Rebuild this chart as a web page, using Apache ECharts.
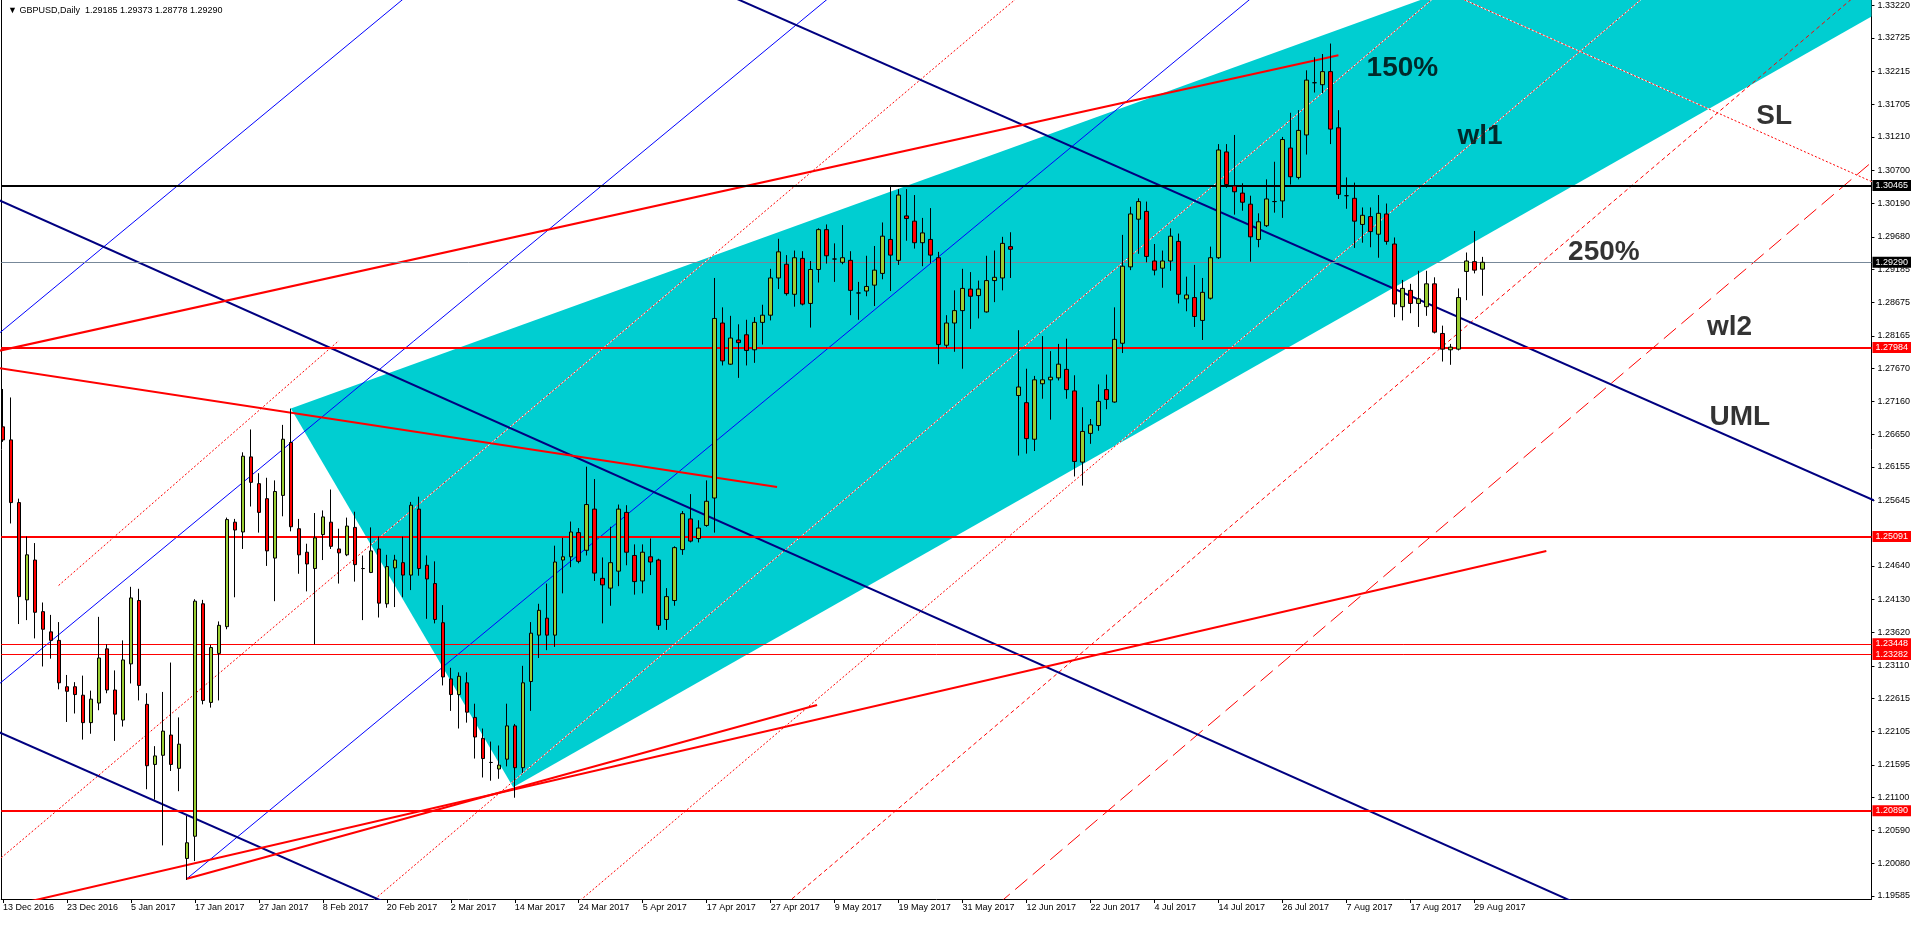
<!DOCTYPE html>
<html><head><meta charset="utf-8">
<script src="https://cdn.jsdelivr.net/npm/echarts@6.0.0/dist/echarts.min.js"></script>
<style>html,body{margin:0;padding:0;background:#fff;overflow:hidden}#c{width:1913px;height:925px}</style>
</head><body><div id="c"></div>
<script>
// ---- candle data (GBPUSD daily, bar 0 = 13 Dec 2016) ----
const opens = [
1.2677,1.2657,1.2561,1.2412,1.2473,1.2394,1.2363,1.2350,1.2279,1.2279,
1.2266,1.2224,1.2254,1.2337,1.2274,1.2228,1.2314,1.2411,1.2252,1.2160,
1.2174,1.2205,1.2154,1.2016,1.2050,1.2406,1.2255,1.2330,1.2371,1.2531,
1.2516,1.2631,1.2590,1.2567,1.2476,1.2572,1.2653,1.2521,1.2485,1.2460,
1.2512,1.2531,1.2490,1.2481,1.2523,1.2460,1.2454,1.2490,1.2406,1.2461,
1.2469,1.2450,1.2551,1.2465,1.2437,1.2377,1.2291,1.2267,1.2285,1.2232,
1.2200,1.2163,1.2153,1.2168,1.2219,1.2155,1.2287,1.2358,1.2384,1.2358,
1.2473,1.2478,1.2515,1.2488,1.2551,1.2445,1.2430,1.2456,1.2546,1.2480,
1.2441,1.2478,1.2473,1.2382,1.2411,1.2489,1.2536,1.2506,1.2526,1.2568,
1.2836,1.2773,1.2810,1.2818,1.2795,1.2837,1.2848,1.2905,1.2926,1.2880,
1.2935,1.2866,1.2918,1.2979,1.2934,1.2929,1.2932,1.2882,1.2885,1.2894,
1.2912,1.2964,1.2932,1.3000,1.2992,1.2959,1.2964,1.2936,1.2802,1.2836,
1.2855,1.2888,1.2878,1.2853,1.2901,1.2905,1.2953,1.2725,1.2714,1.2658,
1.2743,1.2749,1.2752,1.2765,1.2732,1.2623,1.2667,1.2679,1.2734,1.2715,
1.2805,1.2922,1.2995,1.3007,1.2931,1.2920,1.2931,1.2961,1.2873,1.2875,
1.2840,1.2874,1.2936,1.3098,1.3046,1.3035,1.3018,1.2964,1.2985,1.3022,
1.3023,1.3104,1.3059,1.3124,1.3204,1.3201,1.3221,1.3135,1.3031,1.3027,
1.2987,1.2999,1.2972,1.3003,1.2957,1.2861,1.2886,1.2866,1.2861,1.2896,
1.2820,1.2795,1.2796,1.2915,1.2930,1.29185];
const highs = [
1.2735,1.2722,1.2567,1.2509,1.2499,1.2408,1.2389,1.2378,1.2297,1.2286,
1.2296,1.2273,1.2386,1.2344,1.2304,1.2350,1.2432,1.2429,1.2269,1.2188,
1.2271,1.2316,1.2232,1.2081,1.2413,1.2412,1.2343,1.2379,1.2538,1.2536,
1.2638,1.2673,1.2606,1.2599,1.2595,1.2680,1.2705,1.2536,1.2498,1.2545,
1.2549,1.2581,1.2521,1.2538,1.2547,1.2480,1.2523,1.2509,1.2481,1.2481,
1.2509,1.2562,1.2570,1.2480,1.2471,1.2404,1.2308,1.2301,1.2301,1.2253,
1.2215,1.2195,1.2189,1.2253,1.2222,1.2311,1.2378,1.2406,1.2437,1.2495,
1.2507,1.2532,1.2522,1.2616,1.2597,1.2477,1.2524,1.2558,1.2557,1.2497,
1.2497,1.2506,1.2475,1.2430,1.2494,1.2548,1.2574,1.2534,1.2595,1.2905,
1.2860,1.2847,1.2834,1.2841,1.2845,1.2864,1.2919,1.2965,1.2940,1.2947,
1.2946,1.2931,1.2981,1.2987,1.2958,1.2986,1.2946,1.2899,1.2939,1.2954,
1.2990,1.3046,1.3041,1.3041,1.3032,1.2997,1.3012,1.2945,1.2848,1.2886,
1.2919,1.2914,1.2901,1.2939,1.2947,1.2968,1.2975,1.2825,1.2766,1.2755,
1.2816,1.2793,1.2804,1.2812,1.2756,1.2707,1.2689,1.2742,1.2757,1.2860,
1.2971,1.3014,1.3027,1.3022,1.2957,1.2947,1.2981,1.2973,1.2907,1.2925,
1.2905,1.2953,1.3110,1.3110,1.3124,1.3050,1.3031,1.3004,1.3056,1.3083,
1.3121,1.3158,1.3162,1.3223,1.3243,1.3248,1.3264,1.3162,1.3059,1.3051,
1.3013,1.3013,1.3032,1.3019,1.2967,1.2902,1.2896,1.2916,1.2916,1.2906,
1.2832,1.2804,1.2889,1.2944,1.2977,1.29373];
const lows = [
1.2654,1.2529,1.2375,1.2381,1.2353,1.2310,1.2322,1.2275,1.2225,1.2238,
1.2198,1.2207,1.2243,1.2269,1.2196,1.2218,1.2284,1.2258,1.2122,1.2106,
1.2036,1.2150,1.2119,1.1983,1.2012,1.2252,1.2247,1.2258,1.2367,1.2416,
1.2490,1.2555,1.2515,1.2464,1.2410,1.2540,1.2517,1.2452,1.2425,1.2344,
1.2473,1.2490,1.2437,1.2479,1.2440,1.2381,1.2453,1.2385,1.2400,1.2401,
1.2416,1.2427,1.2449,1.2383,1.2376,1.2281,1.2242,1.2215,1.2224,1.2169,
1.2140,1.2135,1.2138,1.2157,1.2109,1.2147,1.2242,1.2323,1.2335,1.2340,
1.2422,1.2462,1.2468,1.2480,1.2441,1.2376,1.2403,1.2433,1.2465,1.2420,
1.2422,1.2450,1.2366,1.2366,1.2403,1.2481,1.2500,1.2500,1.2524,1.2515,
1.2771,1.2772,1.2752,1.2771,1.2775,1.2803,1.2840,1.2888,1.2878,1.2861,
1.2863,1.2829,1.2898,1.2927,1.2899,1.2926,1.2848,1.2841,1.2877,1.2862,
1.2903,1.2885,1.2925,1.2962,1.2950,1.2923,1.2928,1.2773,1.2798,1.2792,
1.2766,1.2827,1.2843,1.2852,1.2868,1.2886,1.2905,1.2633,1.2636,1.2640,
1.2720,1.2688,1.2748,1.2720,1.2601,1.2587,1.2651,1.2671,1.2704,1.2714,
1.2790,1.2917,1.2942,1.2929,1.2909,1.2890,1.2916,1.2866,1.2854,1.2830,
1.2810,1.2872,1.2934,1.3043,1.3002,1.3008,1.2930,1.2952,1.2983,1.3005,
1.2997,1.3048,1.3056,1.3094,1.3189,1.3188,1.3110,1.3026,1.3011,1.2951,
1.2959,1.2952,1.2936,1.2956,1.2845,1.2840,1.2851,1.2830,1.2847,1.2820,
1.2777,1.2772,1.2794,1.2871,1.2912,1.28778];
const closes = [
1.2657,1.2561,1.2417,1.2481,1.2393,1.2367,1.2350,1.2285,1.2272,1.2267,
1.2224,1.2260,1.2323,1.2274,1.2237,1.2320,1.2415,1.2281,1.2158,1.2173,
1.2211,1.2160,1.2191,1.2040,1.2410,1.2258,1.2339,1.2373,1.2535,1.2519,
1.2632,1.2592,1.2546,1.2487,1.2578,1.2658,1.2524,1.2481,1.2467,1.2507,
1.2539,1.2494,1.2484,1.2525,1.2466,1.2460,1.2487,1.2407,1.2463,1.2473,
1.2450,1.2557,1.2460,1.2444,1.2382,1.2294,1.2267,1.2295,1.2240,1.2202,
1.2169,1.2163,1.2159,1.2219,1.2155,1.2285,1.2361,1.2396,1.2358,1.2470,
1.2478,1.2516,1.2471,1.2558,1.2453,1.2435,1.2469,1.2551,1.2485,1.2440,
1.2485,1.2470,1.2373,1.2417,1.2492,1.2544,1.2502,1.2522,1.2563,1.2843,
1.2778,1.2813,1.2806,1.2794,1.2837,1.2848,1.2905,1.2945,1.2881,1.2936,
1.2865,1.2918,1.2979,1.2939,1.2934,1.2936,1.2886,1.2882,1.2892,1.2917,
1.2969,1.2940,1.3032,1.2996,1.2959,1.2974,1.2940,1.2803,1.2836,1.2855,
1.2889,1.2877,1.2888,1.2901,1.2906,1.2958,1.2949,1.2738,1.2659,1.2749,
1.2749,1.2753,1.2773,1.2734,1.2624,1.2670,1.2680,1.2716,1.2719,1.2811,
1.2923,1.3003,1.3022,1.2938,1.2917,1.2931,1.2969,1.2880,1.2879,1.2846,
1.2883,1.2936,1.3101,1.3048,1.3037,1.3021,1.2968,1.2991,1.3026,1.3022,
1.3117,1.3060,1.3131,1.3208,1.3204,1.3221,1.3133,1.3033,1.3031,1.2992,
1.3001,1.2976,1.3004,1.2961,1.2865,1.2889,1.2866,1.2873,1.2896,1.2822,
1.2796,1.2799,1.2875,1.2931,1.2917,1.29290];

// ---- axis ticks ----
const xTickBars = [0,8,16,24,32,40,48,56,64,72,80,88,96,104,112,120,128,136,144,152,160,168,176,184];
const xTickLabels = ['13 Dec 2016','23 Dec 2016','5 Jan 2017','17 Jan 2017','27 Jan 2017','8 Feb 2017',
 '20 Feb 2017','2 Mar 2017','14 Mar 2017','24 Mar 2017','5 Apr 2017','17 Apr 2017','27 Apr 2017',
 '9 May 2017','19 May 2017','31 May 2017','12 Jun 2017','22 Jun 2017','4 Jul 2017','14 Jul 2017',
 '26 Jul 2017','7 Aug 2017','17 Aug 2017','29 Aug 2017'];
const yTickValues = [1.33220,1.32725,1.32215,1.31705,1.31210,1.30700,1.30190,1.29680,1.29185,1.28675,
 1.28165,1.27670,1.27160,1.26650,1.26155,1.25645,1.24640,1.24130,1.23620,1.23110,1.22615,1.22105,
 1.21595,1.21100,1.20590,1.20080,1.19585];

// ---- horizontal levels ----
const redLevels = [1.27984, 1.25091, 1.20890];
const redThinLevels = [1.23448, 1.23282];
const blackLevels = [1.30465];
const bidLevels = [1.29290];

// ---- drawn objects (anchor points: [bar, price]) ----
const channelTriangle = [[36,1.2705],[63.8,1.2125],[342.8,1.4064]];
const redTrendLines = [
 [[-1,1.2792],[167,1.3246]],
 [[-1,1.2768],[96.8,1.2585]],
 [[-1,1.1938],[193,1.2487]],
 [[23,1.1985],[101.8,1.2251]]];
const navyLines = [
 [[-1,1.3027],[260,1.1602]],
 [[60,1.3504],[240,1.2532]],
 [[-1,1.2212],[100,1.1667]]];
const blueLines = [
 [[23,1.1985],[160,1.3373]],
 [[-1,1.2278],[110,1.3402]],
 [[-1,1.2815],[60,1.3433]]];
const dottedLines = [
 [[-1,1.2009],[130,1.3367]],
 [[40,1.1886],[185,1.3397]],
 [[60,1.1825],[210,1.3385]],
 [[180,1.3346],[240,1.3018]]];
const plainDottedLines = [[[6.95,1.2434],[42,1.2809]]];
const shortDashLines = [[[90,1.1864],[240,1.3424]]];
const longDashLines = [[[120,1.1900],[240,1.3148]]];
const noteTexts = ['150%','wl1','SL','250%','wl2','UML'];
const notePoints = [[175.0,1.3226],[184.7,1.3122],[221.5,1.3153],[200.2,1.2945],[215.9,1.2830],[217.2,1.2691]];

const FONT = "'Liberation Sans', 'DejaVu Sans', sans-serif";
const YMIN = 1.19539, YMAX = 1.33307;

const chart = echarts.init(document.getElementById('c'), null, {renderer:'canvas'});
const series = [];

series.push({
  type:'custom', z:1, silent:true, clip:true,
  data:[[0,1.25]],
  renderItem:(params, api) => {
    const cs = params.coordSys;
    return {type:'group', clipPath:{type:'rect', shape:{x:cs.x, y:cs.y, width:cs.width, height:cs.height}},
      children:[{type:'polygon', shape:{points: channelTriangle.map(p => api.coord(p))}, style:{fill:'#00CED1'}}]};
  }
});

function seg(pts, color, width, type, z) {
  return {type:'line', data:pts, symbol:'none', showSymbol:false, silent:true, clip:true, z:z,
    lineStyle:{color:color, width:width, type:type}, animation:false};
}
dottedLines.forEach(l => series.push(seg(l, '#FFFFFF', 1, 'solid', 2)));
dottedLines.forEach(l => series.push(seg(l, '#FF0000', 1, [2,2], 2)));
plainDottedLines.forEach(l => series.push(seg(l, '#FF0000', 1, [2,2], 2)));
shortDashLines.forEach(l => series.push(seg(l, '#FF0000', 1, [4,3], 2)));
longDashLines.forEach(l => series.push(seg(l, '#FF0000', 1, [16,7], 2)));
blueLines.forEach(l => series.push(seg(l, '#0000FF', 1, 'solid', 2)));
navyLines.forEach(l => series.push(seg(l, '#000080', 2, 'solid', 3)));
redTrendLines.forEach(l => series.push(seg(l, '#FF0000', 2, 'solid', 3)));

function level(v, color, width, box) {
  return {yAxis:v, lineStyle:{color:color, width:width, type:'solid'},
    label:{show:true, position:'end', distance:1, formatter: p => Number(p.value).toFixed(5),
      color:'#FFFFFF', backgroundColor:box, padding:[1,3,0,3], fontSize:9, lineHeight:10, fontFamily:FONT}};
}
const levelData = [];
redLevels.forEach(v => levelData.push(level(v, '#FF0000', 2, '#FF0000')));
redThinLevels.forEach(v => levelData.push(level(v, '#FF0000', 1, '#FF0000')));
blackLevels.forEach(v => levelData.push(level(v, '#000000', 2, '#000000')));
bidLevels.forEach(v => levelData.push(level(v, '#778899', 1, '#000000')));
series.push({type:'line', data:[], z:3, clip:false, silent:true,
  markLine:{symbol:['none','none'], precision:5, silent:true, animation:false, data:levelData}});

series.push({
  type:'candlestick', z:5, silent:true, barWidth:4,
  data: opens.map((o,i) => [i, o, closes[i], lows[i], highs[i]]),
  encode:{x:0, y:[1,2,3,4]},
  itemStyle:{color:'#9ACD32', color0:'#FF0000', borderColor:'#000000', borderColor0:'#000000',
    borderColorDoji:'#000000', borderWidth:1}
});

series.push({
  type:'scatter', z:6, silent:true, symbolSize:1, itemStyle:{color:'rgba(0,0,0,0)'},
  data: notePoints,
  label:{show:true, position:'inside', formatter: p => noteTexts[p.dataIndex],
    fontSize:28, fontWeight:'bold', color:'#000000', fontFamily:FONT}
});

const last = opens.length - 1;
const titleText = '\u25BC GBPUSD,Daily  ' + [opens[last], highs[last], lows[last], closes[last]].map(v => v.toFixed(5)).join(' ');

chart.setOption({
  animation:false,
  backgroundColor:'#FFFFFF',
  title:{text:titleText, left:3, top:1, textStyle:{fontSize:9, fontWeight:'normal', color:'#000', fontFamily:FONT}},
  grid:{left:1, right:41, top:0, bottom:26, containLabel:false},
  xAxis:{type:'value', min:-0.22, max:233.66, position:'bottom',
    axisLine:{show:true, onZero:false, lineStyle:{color:'#000', width:1}},
    axisTick:{show:true, customValues:xTickBars, length:4, lineStyle:{color:'#000'}},
    axisLabel:{show:true, customValues:xTickBars, formatter: v => xTickLabels[xTickBars.indexOf(Math.round(v))] || '',
      align:'left', margin:4, fontSize:9, color:'#000', fontFamily:FONT},
    splitLine:{show:false}},
  yAxis:[
    {type:'value', position:'right', min:YMIN, max:YMAX,
      axisLine:{show:true, onZero:false, lineStyle:{color:'#000', width:1}},
      axisTick:{show:true, customValues:yTickValues, length:3, lineStyle:{color:'#000'}},
      axisLabel:{show:true, customValues:yTickValues, formatter: v => Number(v).toFixed(5),
        margin:6, fontSize:9, color:'#000', fontFamily:FONT},
      splitLine:{show:false}},
    {type:'value', position:'left', min:YMIN, max:YMAX,
      axisLine:{show:true, onZero:false, lineStyle:{color:'#000', width:1}},
      axisTick:{show:false}, axisLabel:{show:false}, splitLine:{show:false}}
  ],
  series: series
});
</script>
</body></html>
